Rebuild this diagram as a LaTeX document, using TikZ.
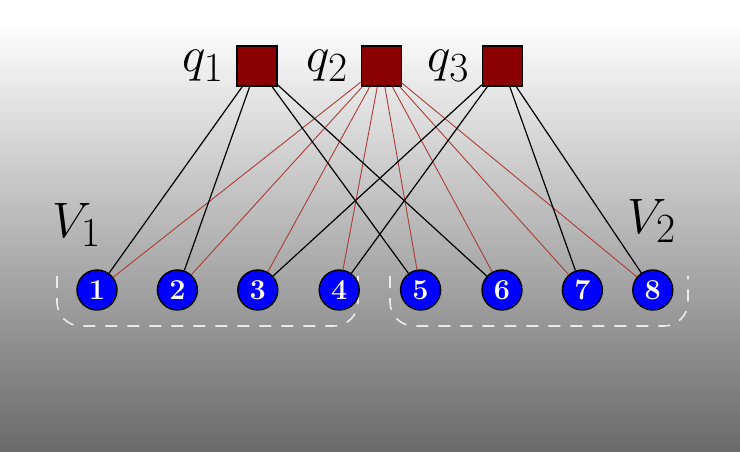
\documentclass[tikz,border=0pt]{standalone}
\usetikzlibrary{positioning}
\definecolor{sqred}{RGB}{139,0,0}
\definecolor{bggray}{RGB}{106,106,106}
\definecolor{edgered}{RGB}{170,62,55}

\begin{document}
\begin{tikzpicture}[
    x=0.5pt, y=-0.5pt,
    lbl/.style={inner sep=0pt, font=\Huge},
    fac/.style={
      draw, rectangle, fill=sqred, line width=0.6pt,
      minimum size=20pt, inner sep=0pt
    },
    var/.style={
      draw, circle, fill=blue, text=white, line width=0.7pt,
      minimum size=20pt, inner sep=0pt,
      font=\Large\bfseries
    },
    blk/.style={line width=0.6pt, black},
    rline/.style={line width=0.45pt, edgered},
    grp/.style={
      draw=white, draw opacity=0.8, line width=0.8pt,
      dash pattern=on 6pt off 5pt, rounded corners=12pt
    }
  ]
    % background
    \fill[white] (0,0) rectangle (740,451);
    \shade[top color=white, bottom color=bggray] (0,20) rectangle (740,451);

    % groups
    \draw[grp] (57,276) -- (57,326) -- (358,326) -- (358,276);
    \draw[grp] (390,276) -- (390,326) -- (688,326) -- (688,276);

    \node[fac] (q1) at (257,66) {};
    \node[fac, right=41.5pt of q1] (q2) {};
    \node[fac, right=40pt of q2] (q3) {};
    \node[lbl, left=6pt of q1] (lq1) {$q_1$};
    \node[lbl, left=6pt of q2] (lq2) {$q_2$};
    \node[lbl, left=6pt of q3] (lq3) {$q_3$};

    \node[var] (v1) at (97,290) {1};
    \node[var, right=19.5pt of v1] (v2) {2};
    \node[var, right=19.5pt of v2] (v3) {3};
    \node[var, right=20pt of v3] (v4) {4};
    \node[var, right=20pt of v4] (v5) {5};
    \node[var, right=20pt of v5] (v6) {6};
    \node[var, right=19.5pt of v6] (v7) {7};
    \node[var, right=14.5pt of v7] (v8) {8};

    \node[lbl] (lv1) at (77,225) {$V_1$};
    \node[lbl] (lv2) at (652,221) {$V_2$};

    \draw[rline] (q2) -- (v1);
    \draw[rline] (q2) -- (v2);
    \draw[rline] (q2) -- (v3);
    \draw[rline] (q2) -- (v4);
    \draw[rline] (q2) -- (v5);
    \draw[rline] (q2) -- (v6);
    \draw[rline] (q2) -- (v7);
    \draw[rline] (q2) -- (v8);

    \draw[blk] (q1) -- (v1);
    \draw[blk] (q1) -- (v2);
    \draw[blk] (q1) -- (v5);
    \draw[blk] (q1) -- (v6);
    \draw[blk] (q3) -- (v3);
    \draw[blk] (q3) -- (v4);
    \draw[blk] (q3) -- (v7);
    \draw[blk] (q3) -- (v8);
  \end{tikzpicture}
\end{document}
